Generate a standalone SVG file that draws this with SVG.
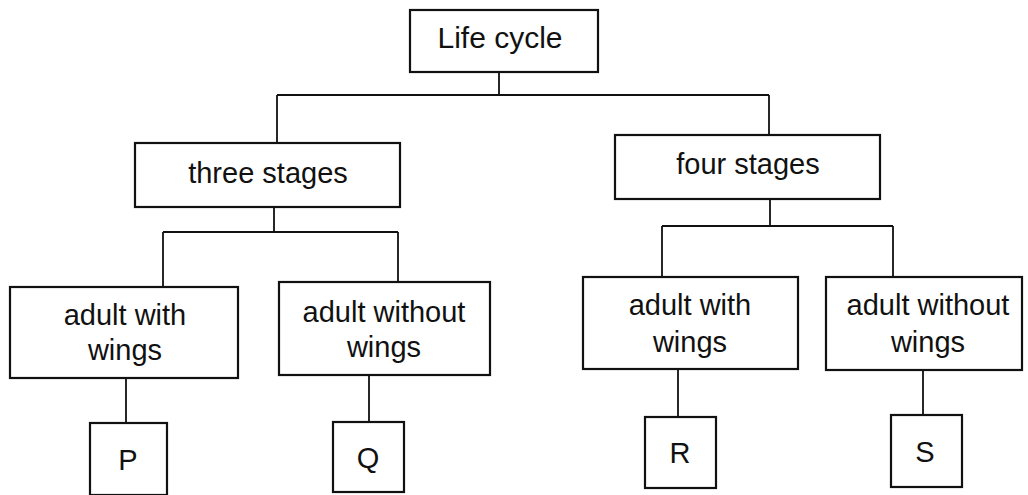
<svg xmlns="http://www.w3.org/2000/svg" width="1028" height="495" viewBox="0 0 1028 495">
<style>
.box{fill:#fff;stroke:#111;stroke-width:2.2}
.ln{fill:none;stroke:#111;stroke-width:1.8}
text{font-family:"Liberation Sans",Arial,sans-serif;font-size:29px;fill:#111;text-anchor:middle}
</style>
<rect width="1028" height="495" fill="#fff"/>
<g id="connectors">
<path class="ln" d="M499 72V95M277 95H769M277 95V143M769 95V135"/>
<path class="ln" d="M274 207V232M163 232H398M163 232V287M398 232V282"/>
<path class="ln" d="M770 199V226M662 226H893M662 226V277M893 226V277"/>
<path class="ln" d="M126 378V423M369 375V422M678 369V417M923 370V415"/>
</g>
<g id="life-cycle"><rect class="box" x="410" y="10" width="188" height="62"/><text x="500" y="48" style="font-size:30px">Life cycle</text></g>
<g id="three-stages"><rect class="box" x="135" y="143" width="265" height="64"/><text x="268" y="183">three stages</text></g>
<g id="four-stages"><rect class="box" x="615" y="135" width="265" height="64"/><text x="748" y="174">four stages</text></g>
<g id="adult-with-wings-1"><rect class="box" x="10" y="287" width="228" height="91"/><text x="125" y="325">adult with</text><text x="125" y="360">wings</text></g>
<g id="adult-without-wings-1"><rect class="box" x="279" y="282" width="211" height="93"/><text x="384" y="322">adult without</text><text x="384" y="357">wings</text></g>
<g id="adult-with-wings-2"><rect class="box" x="583" y="277" width="215" height="92"/><text x="690" y="315">adult with</text><text x="690" y="352">wings</text></g>
<g id="adult-without-wings-2"><rect class="box" x="826" y="277" width="196" height="93"/><text x="928" y="315">adult without</text><text x="928" y="352">wings</text></g>
<g id="P"><rect class="box" x="90" y="423" width="77" height="72"/><text x="128" y="470">P</text></g>
<g id="Q"><rect class="box" x="333" y="422" width="71" height="70"/><text x="368" y="468">Q</text></g>
<g id="R"><rect class="box" x="645" y="417" width="71" height="71"/><text x="680" y="463">R</text></g>
<g id="S"><rect class="box" x="891" y="415" width="71" height="72"/><text x="925" y="462">S</text></g>
</svg>
